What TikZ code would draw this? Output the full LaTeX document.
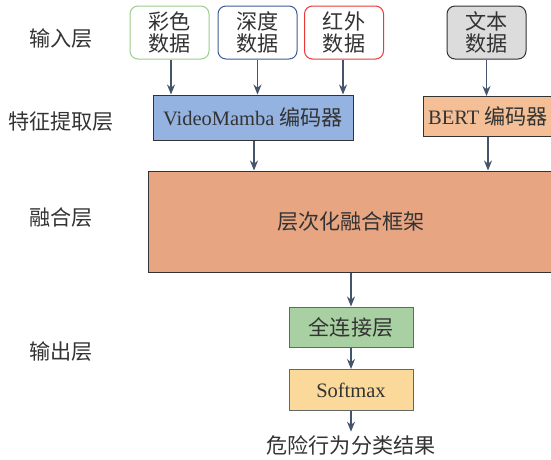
\documentclass[tikz,border=0pt]{standalone}
\usepackage{fontspec}
\setmainfont{Liberation Serif}
\newfontfamily\cjk{Noto Sans CJK SC}[Scale=1.03]
\usetikzlibrary{arrows.meta}
\definecolor{arrowc}{HTML}{44546A}
\definecolor{txtc}{HTML}{333333}
\definecolor{greenb}{HTML}{9CCB8E}
\definecolor{blueb}{HTML}{3F5B96}
\definecolor{redb}{HTML}{E83A3A}
\definecolor{grayf}{HTML}{DCDCDC}
\definecolor{vmf}{HTML}{95B3E0}
\definecolor{bertf}{HTML}{F4BF96}
\definecolor{fusf}{HTML}{E8A582}
\definecolor{fcf}{HTML}{A9D0A3}
\definecolor{smf}{HTML}{FAD99A}
\tikzset{
  every node/.style={text=txtc, font=\fontsize{20.5}{25}\selectfont},
  inbox/.style={draw, rounded corners=8pt, line width=1pt, minimum width=79pt, minimum height=53pt, align=center, inner sep=0pt, fill=white},
  blockbox/.style={draw=black!80, line width=1pt, inner sep=0pt, align=center},
  layerlabel/.style={font=\cjk\fontsize{20.5}{25}\selectfont},
  conn/.style={draw=arrowc, line width=1.3pt, -{Stealth[length=10pt,width=8pt]}}
}
\begin{document}
\begin{tikzpicture}[x=1pt,y=-1pt]
\useasboundingbox (0,0) rectangle (551,459);
\clip (0,0) rectangle (551,459);
% layer labels
\node[layerlabel] (l1) at (61,39) {输入层};
\node[layerlabel] (l2) at (61,122) {特征提取层};
\node[layerlabel] (l3) at (61,218) {融合层};
\node[layerlabel] (l4) at (61,352) {输出层};
% inputs
\node[inbox, draw=greenb] (rgb) at (169.5,32.5) {\cjk 彩色\\[-3pt]\cjk 数据};
\node[inbox, draw=blueb] (dep) at (257.5,32.5) {\cjk 深度\\[-3pt]\cjk 数据};
\node[inbox, draw=redb] (ir) at (344,32.5) {\cjk 红外\\[-3pt]\cjk 数据};
\node[inbox, draw=black!80, fill=grayf] (txt) at (486.5,32.5) {\cjk 文本\\[-3pt]\cjk 数据};
% encoders
\node[blockbox, fill=vmf, minimum width=200pt, minimum height=45pt] (vm) at (253,117.5) {VideoMamba {\cjk 编码器}};
\node[blockbox, fill=bertf, minimum width=130pt, minimum height=40pt] (bert) at (488,116.5) {BERT {\cjk 编码器}};
% fusion
\node[blockbox, fill=fusf, minimum width=406pt, minimum height=101pt] (fus) at (351,221.5) {\cjk 层次化融合框架};
% output
\node[blockbox, draw=black!60, fill=fcf, minimum width=124pt, minimum height=40pt] (fc) at (351,327) {\cjk 全连接层};
\node[blockbox, draw=black!60, fill=smf, minimum width=124pt, minimum height=41pt] (sm) at (351,390) {Softmax};
\node (res) at (351,445) {\cjk 危险行为分类结果};
% connectors
\draw[conn] ([xshift=1.5pt]rgb.south) -- ([xshift=1.5pt]rgb.south |- vm.north);
\draw[conn] (dep.south) -- (dep.south |- vm.north);
\draw[conn] ([xshift=-1pt]ir.south) -- ([xshift=-1pt]ir.south |- vm.north);
\draw[conn] (txt.south) -- (txt.south |- bert.north);
\draw[conn] ([xshift=1pt]vm.south) -- ([xshift=1pt]vm.south |- fus.north);
\draw[conn] (bert.south) -- (bert.south |- fus.north);
\draw[conn] (fus.south) -- (fc.north);
\draw[conn] (fc.south) -- (sm.north);
\draw[conn] (sm.south) -- (res.north);
\end{tikzpicture}
\end{document}
